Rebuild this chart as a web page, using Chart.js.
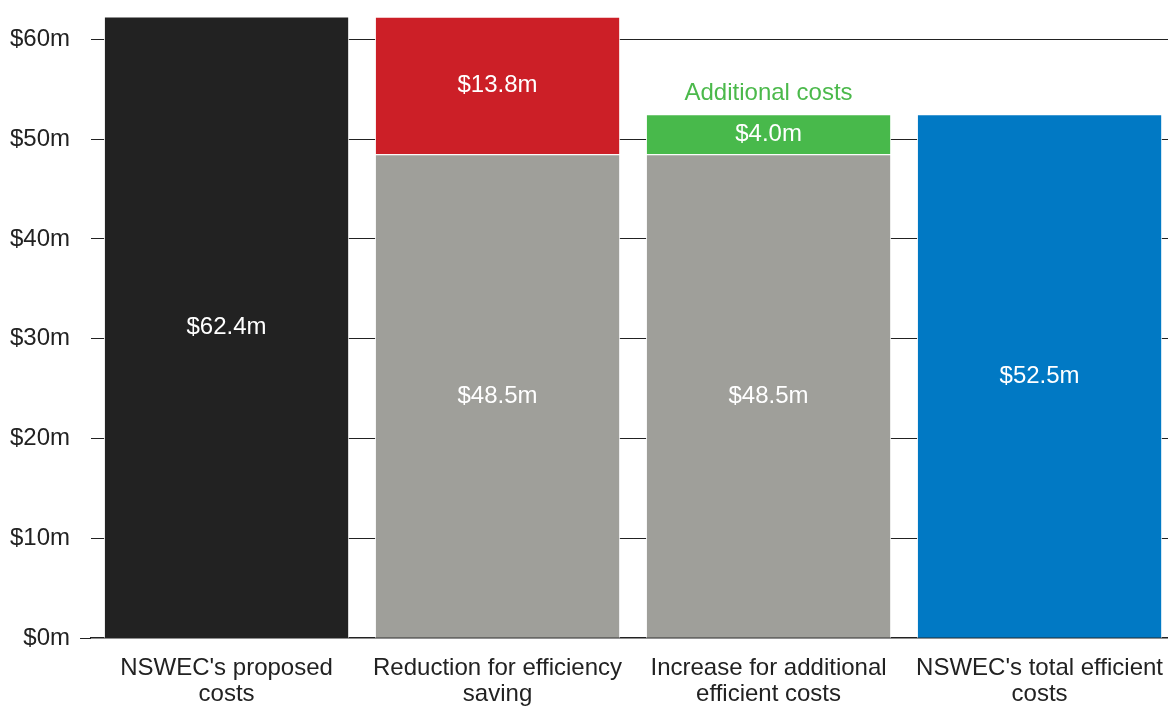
<!DOCTYPE html>
<html>
<head>
<meta charset="utf-8">
<script src="https://cdn.jsdelivr.net/npm/chart.js@4"></script>
<style>
  html, body { margin: 0; padding: 0; background: #ffffff; overflow: hidden; width: 1168px; height: 706px; }
  #wrap { width: 1180px; height: 732px; position: absolute; left: 0; top: -7px; }
</style>
</head>
<body>
<div id="wrap"><canvas id="cost-chart"></canvas></div>
<script>
// categories and values ($m)
const categories = [
    ["NSWEC's proposed", "costs"],
    ["Reduction for efficiency", "saving"],
    ["Increase for additional", "efficient costs"],
    ["NSWEC's total efficient", "costs"]
];
const base_values = [62.4, 48.5, 48.5, 52.5];
const reduction_values = [null, 13.8, null, null];
const additional_values = [null, null, 4.0, null];
const y_ticks = [0, 10, 20, 30, 40, 50, 60];
const y_max = 62.2;

const base_colors = ['#222222', '#9f9f9a', '#9f9f9a', '#0179c4'];

const font_family = "'Liberation Sans', Arial, sans-serif";

// white value labels in the middle of every segment + the green note
const label_plugin = {
    id: 'segmentLabels',
    afterDatasetsDraw(chart) {
        const ctx = chart.ctx;
        const area = chart.chartArea;
        ctx.save();
        ctx.font = '24px ' + font_family;
        ctx.textAlign = 'center';
        ctx.textBaseline = 'middle';
        chart.data.datasets.forEach((ds, di) => {
            const meta = chart.getDatasetMeta(di);
            meta.data.forEach((bar, i) => {
                const v = ds.data[i];
                if (v === null || v === undefined) return;
                const top = Math.max(bar.y, area.top);
                const mid = (top + bar.base) / 2;
                ctx.fillStyle = '#ffffff';
                ctx.fillText('$' + v.toFixed(1) + 'm', bar.x, mid);
                if (ds.note) {
                    ctx.fillStyle = '#4bb94b';
                    ctx.fillText(ds.note, bar.x, bar.y - 21);
                }
            });
        });
        ctx.restore();
    }
};

const chart = new Chart(document.getElementById('cost-chart'), {
    type: 'bar',
    data: {
        labels: categories,
        datasets: [{
            data: base_values,
            backgroundColor: base_colors,
            borderColor: '#ffffff',
            borderWidth: 1
        }, {
            data: reduction_values,
            backgroundColor: '#cc1f27',
            borderColor: '#ffffff',
            borderWidth: 1
        }, {
            data: additional_values,
            backgroundColor: '#48b94b',
            borderColor: '#ffffff',
            borderWidth: 1,
            note: 'Additional costs'
        }]
    },
    options: {
        responsive: true,
        maintainAspectRatio: false,
        animation: false,
        categoryPercentage: 0.905,
        barPercentage: 1.0,
        plugins: {
            legend: { display: false },
            tooltip: { enabled: false }
        },
        scales: {
            x: {
                stacked: true,
                grid: { display: false, drawTicks: false },
                border: { display: true, color: '#222222', width: 1.5 },
                ticks: {
                    color: '#222222',
                    font: { family: font_family, size: 24, lineHeight: 1.1 },
                    padding: 17,
                    maxRotation: 0,
                    autoSkip: false
                }
            },
            y: {
                stacked: true,
                min: 0,
                max: y_max,
                afterBuildTicks: axis => {
                    axis.ticks = y_ticks.map(v => ({ value: v }));
                },
                grid: {
                    color: ctx => ctx.tick && ctx.tick.value === 0 ? 'rgba(0,0,0,0)' : '#222222',
                    tickColor: ctx => ctx.tick && ctx.tick.value === 0 ? '#222222' : 'rgba(0,0,0,0)',
                    tickLength: 11,
                    lineWidth: 1
                },
                border: { display: false },
                ticks: {
                    color: '#222222',
                    font: { family: font_family, size: 24 },
                    padding: 10,
                    callback: v => '$' + v + 'm'
                }
            }
        },
        layout: {
            padding: { left: 0, right: 0, top: 9, bottom: 0 }
        }
    },
    plugins: [label_plugin]
});
</script>
</body>
</html>
